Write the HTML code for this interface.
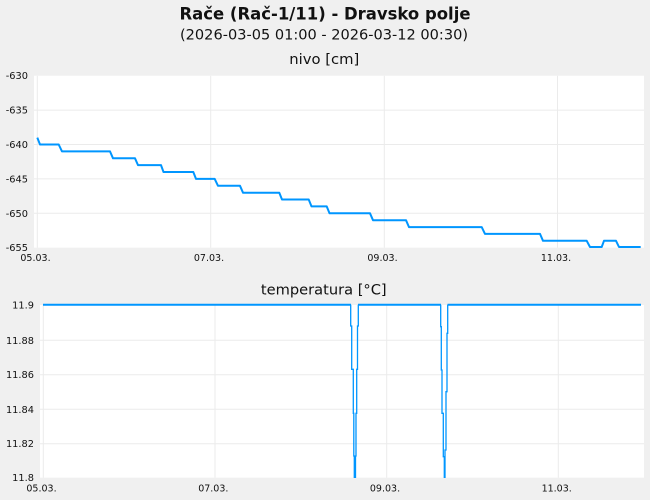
<!DOCTYPE html>
<html>
<head>
<meta charset="utf-8">
<style>
html,body{margin:0;padding:0;background:#f0f0f0;}
svg{display:block;}
text{font-family:"DejaVu Sans","Liberation Sans",sans-serif;fill:#111;}
</style>
</head>
<body>
<svg width="650" height="500" viewBox="0 0 650 500" xmlns="http://www.w3.org/2000/svg">
<rect x="0" y="0" width="650" height="500" fill="#f0f0f0"/>

<!-- Titles -->
<text x="325" y="19.5" text-anchor="middle" font-size="16.5" font-weight="bold" textLength="291" lengthAdjust="spacingAndGlyphs">Rače (Rač-1/11) - Dravsko polje</text>
<text x="324" y="39.5" text-anchor="middle" font-size="14.5" textLength="288" lengthAdjust="spacingAndGlyphs">(2026-03-05 01:00 - 2026-03-12 00:30)</text>
<text x="324.3" y="64" text-anchor="middle" font-size="14.5" textLength="70" lengthAdjust="spacingAndGlyphs">nivo [cm]</text>
<text x="323.8" y="294.3" text-anchor="middle" font-size="14.5" textLength="125.7" lengthAdjust="spacingAndGlyphs">temperatura [°C]</text>

<!-- Top chart -->
<rect x="34" y="75.7" width="610" height="172" fill="#ffffff"/>
<g stroke="#ebebeb" stroke-width="1">
  <line x1="34" x2="644" y1="110.1" y2="110.1"/>
  <line x1="34" x2="644" y1="144.5" y2="144.5"/>
  <line x1="34" x2="644" y1="178.9" y2="178.9"/>
  <line x1="34" x2="644" y1="213.3" y2="213.3"/>
  <line x1="37.3" x2="37.3" y1="75.7" y2="247.7"/>
  <line x1="210.7" x2="210.7" y1="75.7" y2="247.7"/>
  <line x1="384.3" x2="384.3" y1="75.7" y2="247.7"/>
  <line x1="557.5" x2="557.5" y1="75.7" y2="247.7"/>
</g>
<g font-size="9.8" text-anchor="end">
  <text x="28" y="79">-630</text>
  <text x="28" y="113.6">-635</text>
  <text x="28" y="148">-640</text>
  <text x="28" y="182.4">-645</text>
  <text x="28" y="216.8">-650</text>
  <text x="28" y="251">-655</text>
</g>
<g font-size="9.5" text-anchor="middle">
  <text x="35.5" y="261">05.03.</text>
  <text x="209" y="261">07.03.</text>
  <text x="382.5" y="261">09.03.</text>
  <text x="556" y="261">11.03.</text>
</g>
<path fill="none" stroke="#0096ff" stroke-width="2" stroke-linejoin="round"
 d="M37.3 137.6 L40 144.5 H58.7 L62 151.4 H110 L113 158.3 H135 L138 165.1 H161 L163.5 172 H193.3 L196 178.9 H214.7 L218 185.8 H240 L243 192.7 H279.3 L282 199.5 H308.7 L311.5 206.4 H326.7 L329.5 213.3 H370 L373 220.2 H406 L409 227.1 H481.7 L485 233.9 H540 L543 240.8 H586.7 L590 247 H601.7 L604 240.8 H616 L619 247 H640.7"/>

<!-- Bottom chart -->
<rect x="40" y="305" width="604" height="172.7" fill="#ffffff"/>
<g stroke="#ebebeb" stroke-width="1">
  <line x1="40" x2="644" y1="340.3" y2="340.3"/>
  <line x1="40" x2="644" y1="374.7" y2="374.7"/>
  <line x1="40" x2="644" y1="409.3" y2="409.3"/>
  <line x1="40" x2="644" y1="443.7" y2="443.7"/>
  <line x1="43.3" x2="43.3" y1="305" y2="477.7"/>
  <line x1="215" x2="215" y1="305" y2="477.7"/>
  <line x1="386.7" x2="386.7" y1="305" y2="477.7"/>
  <line x1="558.3" x2="558.3" y1="305" y2="477.7"/>
</g>
<g font-size="9.8" text-anchor="end">
  <text x="34" y="308.5">11.9</text>
  <text x="34" y="343.8">11.88</text>
  <text x="34" y="378.2">11.86</text>
  <text x="34" y="412.8">11.84</text>
  <text x="34" y="447.2">11.82</text>
  <text x="34" y="481">11.8</text>
</g>
<g font-size="9.5" text-anchor="middle">
  <text x="41.5" y="491.5">05.03.</text>
  <text x="213.3" y="491.5">07.03.</text>
  <text x="385" y="491.5">09.03.</text>
  <text x="556.7" y="491.5">11.03.</text>
</g>
<path fill="none" stroke="#0096ff" stroke-width="2" d="M43 304.7 H351 M358 304.7 H441 M447.5 304.7 H641"/>
<path fill="none" stroke="#0096ff" stroke-width="1.3"
 d="M350.7 304.7 V326 H351.7 V369.3 H353.3 V413.3 H353.8 V456 H354.3 V478 M355.5 478 V456 H356 V413.3 H356.7 V369.3 H357.5 V326 H358.3 V304.7
    M440.7 304.7 V326.7 H441.3 V370 H442 V413.3 H443.3 V456.7 H444.3 V478 M445 478 V450 H446 V391.7 H447 V333.3 H447.7 V304.7"/>
</svg>
</body>
</html>
